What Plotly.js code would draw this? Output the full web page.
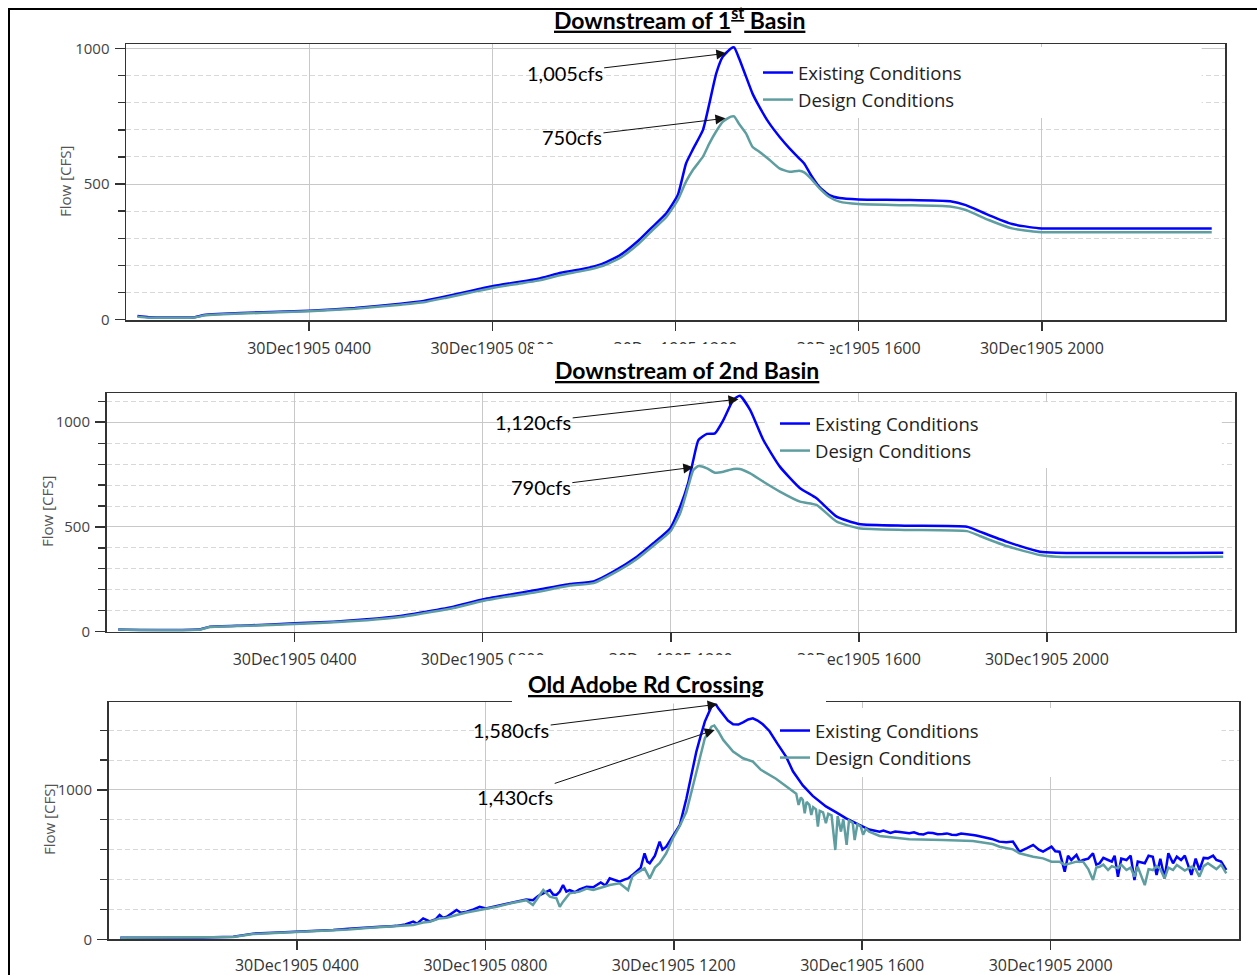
<!DOCTYPE html>
<html>
<head>
<meta charset="utf-8">
<script src="https://cdn.plot.ly/plotly-3.0.1.min.js"></script>
<style>html,body{margin:0;padding:0;background:#fff;}#chart{width:1257px;height:975px;}</style>
</head>
<body>
<div id="chart"></div>
<script>
// ---------- DATA (hours after 30Dec1905 0000, flow in cfs) ----------
const seriesNames = ["Existing Conditions", "Design Conditions"];
const panelTitles = ["<b><u>Downstream of 1<sup>st</sup> Basin</u></b>", "<b><u>Downstream of 2nd Basin</u></b>", "<b><u>Old Adobe Rd Crossing</u></b>"];
const tickHours = [4, 8, 12, 16, 20];

// Panel 1 - Downstream of 1st Basin
const basin1Hours = [0.25,0.5,1.0,1.5,1.7,2.0,3.0,4.0,5.0,6.0,6.5,7.0,7.5,8.0,8.5,9.0,9.5,10.0,10.4,10.8,11.2,11.5,11.8,12.05,12.23,12.38,12.6,12.74,12.89,13.03,13.21,13.28,13.39,13.54,13.68,13.83,14.05,14.27,14.49,14.7,14.81,14.96,15.14,15.36,15.58,16.0,17.0,18.0,18.34,18.84,19.35,19.93,21.0,22.5,23.71];
const basin1Existing = [12,8,7,8,16,20,26,32,42,58,68,85,104,122,136,150,172,187,205,238,292,342,392,459,576,628,700,798,909,970,1001,1005,964,897,835,786,724,675,632,595,576,533,490,459,448,443,441,436,422,385,352,337,336,336,336];
const basin1Design = [10,6,6,7,14,18,24,30,39,54,63,80,98,116,130,143,164,180,197,228,280,330,378,441,509,552,601,650,695,730,749,750,722,687,638,619,590,558,545,549,543,520,485,452,435,426,422,417,404,367,336,323,322,322,322];

// Panel 2 - Downstream of 2nd Basin
const basin2Hours = [0.25,1.15,2.0,2.2,3.0,4.0,4.83,5.54,6.25,6.67,7.38,8.02,9.15,9.86,10.36,10.78,11.28,11.63,11.99,12.2,12.37,12.48,12.59,12.77,12.94,13.12,13.33,13.47,13.69,13.97,14.32,14.75,15.1,15.53,16.0,17.0,18.3,18.57,19.14,19.85,20.2,23.75];
const basin2Existing = [11,8,12,24,30,40,48,59,75,90,119,155,199,228,240,287,358,422,494,597,709,820,915,944,947,1011,1107,1126,1058,915,788,685,637,549,514,506,501,478,430,382,377,377];
const basin2Design = [10,7,11,22,28,37,45,55,70,85,113,148,190,220,232,278,347,410,478,565,692,772,791,780,759,764,777,777,756,716,669,621,605,525,494,486,480,457,409,366,358,358];

// Panel 3 - Old Adobe Rd Crossing
const adobeHoursExisting = [0.25,1.0,2.0,2.65,3.07,3.5,4.0,4.4,4.77,5.1,5.48,5.76,6.0,6.11,6.3,6.47,6.55,6.68,6.82,6.95,7.03,7.1,7.18,7.3,7.39,7.48,7.6,7.75,7.88,8.01,8.24,8.4,8.59,8.75,8.87,9.01,9.12,9.23,9.37,9.44,9.51,9.58,9.65,9.72,9.79,9.9,10.0,10.15,10.29,10.45,10.55,10.64,10.75,10.85,10.95,11.03,11.12,11.21,11.3,11.38,11.44,11.49,11.6,11.7,11.76,11.84,11.98,12.13,12.27,12.37,12.48,12.57,12.66,12.8,12.88,12.95,13.05,13.15,13.26,13.37,13.47,13.58,13.68,13.78,13.89,14.03,14.2,14.39,14.53,14.74,14.95,15.23,15.45,15.66,15.94,16.15,16.37,16.45,16.6,16.7,16.8,16.9,17.0,17.1,17.2,17.3,17.4,17.5,17.6,17.71,17.8,17.9,18.0,18.1,18.2,18.35,18.42,18.5,18.63,18.75,18.91,19.06,19.2,19.34,19.5,19.63,19.75,19.84,20.02,20.1,20.19,20.3,20.37,20.44,20.55,20.62,20.69,20.8,20.9,20.97,21.04,21.12,21.22,21.3,21.36,21.43,21.5,21.61,21.7,21.78,21.85,22.0,22.08,22.17,22.25,22.33,22.42,22.5,22.6,22.68,22.77,22.85,22.99,23.08,23.16,23.25,23.34,23.45,23.52,23.62,23.73];
const adobeExisting = [11,11,12,17,38,44,51,55,62,70,80,84,88,90,100,118,105,140,120,135,163,145,151,175,196,178,185,200,218,207,223,238,252,262,267,262,290,308,330,300,297,320,364,320,330,315,335,352,348,380,360,408,395,386,400,408,430,453,480,576,520,509,560,654,600,620,687,766,944,1090,1257,1360,1458,1558,1580,1545,1502,1465,1440,1438,1453,1472,1480,1465,1440,1395,1310,1220,1125,1030,960,890,850,810,766,735,721,728,712,722,718,712,710,716,705,702,714,712,704,705,709,700,698,708,706,699,695,690,683,672,654,650,654,587,610,632,600,587,620,590,587,453,560,531,565,520,531,540,576,500,509,545,531,520,560,419,540,531,560,397,520,509,560,553,430,540,408,576,509,553,531,560,431,540,464,545,542,560,531,520,464];
const adobeHoursDesign = [0.25,1.0,2.0,2.65,3.07,3.5,4.0,4.4,4.77,5.1,5.48,5.76,6.11,6.3,6.47,6.68,6.82,7.03,7.18,7.39,7.6,7.88,8.01,8.24,8.59,8.87,9.01,9.12,9.23,9.37,9.51,9.58,9.65,9.79,10.0,10.15,10.29,10.45,10.64,10.85,11.03,11.12,11.21,11.38,11.49,11.6,11.7,11.84,11.98,12.13,12.27,12.37,12.48,12.66,12.8,12.86,12.95,13.05,13.26,13.47,13.68,13.85,14.17,14.5,14.6,14.65,14.7,14.74,14.78,14.82,14.88,14.92,14.96,15.02,15.06,15.1,15.17,15.23,15.28,15.35,15.43,15.48,15.55,15.6,15.67,15.72,15.8,15.84,15.9,15.97,16.02,16.08,16.15,16.37,17.0,17.71,18.35,18.77,18.92,19.2,19.34,19.63,19.84,20.02,20.19,20.3,20.44,20.55,20.69,20.8,20.9,20.97,21.04,21.12,21.22,21.3,21.43,21.5,21.61,21.7,21.78,21.85,22.0,22.08,22.17,22.25,22.33,22.42,22.5,22.6,22.68,22.77,22.85,22.99,23.08,23.16,23.25,23.34,23.45,23.52,23.62,23.73];
const adobeDesign = [10,10,11,15,35,41,48,52,59,66,76,82,87,92,96,112,118,140,145,163,180,196,203,218,245,262,230,280,330,285,274,218,252,308,319,340,330,345,364,375,330,420,442,475,408,480,509,576,676,760,855,980,1123,1346,1424,1432,1390,1335,1257,1212,1190,1135,1075,1000,975,900,950,933,844,920,900,833,885,870,754,860,850,777,840,830,598,825,721,805,632,795,780,665,770,755,700,740,721,692,670,665,658,638,620,602,576,553,542,520,520,498,509,520,520,470,397,480,486,500,464,490,475,500,464,480,419,486,363,470,464,490,470,408,480,464,498,475,460,486,470,420,490,509,486,470,500,442];

// Peak labels: [panel, hour, flow, text]
const peakLabels = [
  [1, 13.11, 983, "1,005cfs"], [1, 13.09, 743, "750cfs"],
  [2, 13.44, 1110, "1,120cfs"], [2, 12.48, 785, "790cfs"],
  [3, 12.93, 1574, "1,580cfs"], [3, 12.87, 1402, "1,430cfs"]
];

// ---------- helpers ----------
const W = 1257, H = 975;
const fx = v => v / W;
const fy = v => 1 - v / H;
function pad(n){ return (n < 10 ? "0" : "") + n; }
function toDate(h){
  let s = Math.round(h * 3600);
  const d = 30 + Math.floor(s / 86400); s = s % 86400;
  return "1905-12-" + d + " " + pad(Math.floor(s/3600)) + ":" + pad(Math.floor((s%3600)/60)) + ":" + pad(s%60);
}
const BLUE = "#0000ff", TEAL = "#5f9ea0";

const panels = [
  {hE: basin1Hours, vE: basin1Existing, hD: basin1Hours, vD: basin1Design, shape: "spline"},
  {hE: basin2Hours, vE: basin2Existing, hD: basin2Hours, vD: basin2Design, shape: "spline"},
  {hE: adobeHoursExisting, vE: adobeExisting, hD: adobeHoursDesign, vD: adobeDesign, shape: "linear"}
];
const legendIds = ["legend", "legend2", "legend3"];
const traces = [];
panels.forEach((p, i) => {
  const ax = i === 0 ? "" : String(i + 1);
  traces.push({x: p.hE.map(toDate), y: p.vE, type: "scatter", mode: "lines", name: seriesNames[0],
    xaxis: "x" + ax, yaxis: "y" + ax, legend: legendIds[i],
    line: {color: BLUE, width: 2.5, shape: p.shape, smoothing: 0.5}, hoverinfo: "skip"});
  traces.push({x: p.hD.map(toDate), y: p.vD, type: "scatter", mode: "lines", name: seriesNames[1],
    xaxis: "x" + ax, yaxis: "y" + ax, legend: legendIds[i],
    line: {color: TEAL, width: 2.5, shape: p.shape, smoothing: 0.5}, hoverinfo: "skip"});
});

const tickFont = {family: "Open Sans, Noto Sans, sans-serif", size: 16, color: "#333"};
function xAxis(domain, anchor, standoff){
  return {domain: domain, anchor: anchor, type: "date", range: [toDate(0), toDate(24)],
    tickmode: "array", tickvals: tickHours.map(toDate), tickformat: "%d%b%Y %H%M",
    ticks: "outside", ticklen: 9, tickwidth: 1.5, tickcolor: "#333", ticklabelstandoff: standoff,
    showgrid: true, gridcolor: "#c8c8c8", gridwidth: 1, zeroline: false,
    showline: true, mirror: true, linecolor: "#333", linewidth: 1.5, tickfont: tickFont, fixedrange: true};
}
function yAxis(domain, anchor, range, dtick, minorDtick){
  return {domain: domain, anchor: anchor, range: range, tickmode: "linear", tick0: 0, dtick: dtick,
    ticks: "outside", ticklen: 10, tickwidth: 1.5, tickcolor: "#333", ticklabelstandoff: 2,
    showgrid: true, gridcolor: "#c8c8c8", gridwidth: 1, zeroline: false,
    minor: {dtick: minorDtick, tick0: 0, ticks: "outside", ticklen: 7, tickwidth: 1.2, tickcolor: "#333",
      showgrid: true, gridcolor: "#d8d8d8", griddash: "5px,3px", gridwidth: 1},
    showline: true, mirror: true, linecolor: "#333", linewidth: 1.5,
    tickfont: {family: "Open Sans, Noto Sans, sans-serif", size: 15, color: "#444"}, fixedrange: true};
}

const legendStyle = (x, y) => ({x: fx(x), y: fy(y), xanchor: "left", yanchor: "top",
  bgcolor: "rgba(0,0,0,0)", borderwidth: 0, tracegroupgap: 0, itemwidth: 30,
  font: {family: "Open Sans, Noto Sans, sans-serif", size: 18.5, color: "#222"}});

const annFont = {family: "Lato, Carlito, sans-serif", size: 20, color: "#000"};
const annotations = [];
// panel titles
[[679, 19], [686.5, 370], [645.8, 684]].forEach((pos, i) => {
  annotations.push({xref: "paper", yref: "paper", x: fx(pos[0]), y: fy(pos[1]), xanchor: "center", yanchor: "middle",
    text: panelTitles[i], showarrow: false, borderpad: 0, font: {family: "Lato, Carlito, sans-serif", size: 23, color: "#000"}});
});
// y axis titles
[[65, 182], [47, 512], [49, 820]].forEach(pos => {
  annotations.push({xref: "paper", yref: "paper", x: fx(pos[0]), y: fy(pos[1]), xanchor: "center", yanchor: "middle",
    text: "Flow [CFS]", textangle: -90, showarrow: false,
    font: {family: "Open Sans, Noto Sans, sans-serif", size: 15, color: "#555"}});
});
// peak labels (text centre offsets in px)
const labelOffsets = [[-161.7, 19.2], [-153.5, 18.4], [-205.3, 23.2], [-152.5, 19.4], [-206.4, 25.7], [-199.5, 66.7]];
peakLabels.forEach((pl, i) => {
  const ax = pl[0] === 1 ? "" : String(pl[0]);
  annotations.push({xref: "x" + ax, yref: "y" + ax, x: toDate(pl[1]), y: pl[2], text: pl[3],
    showarrow: true, arrowhead: 2, arrowsize: 2, arrowwidth: 1, arrowcolor: "#111",
    ax: labelOffsets[i][0], ay: labelOffsets[i][1], font: annFont});
});

const shapes = [
  // outer frame of the figure
  {type: "rect", xref: "paper", yref: "paper", x0: fx(9), x1: 1.01, y0: -0.01, y1: fy(9),
    line: {color: "#000", width: 2}, fillcolor: "rgba(0,0,0,0)", layer: "below"},
  // white legend backgrounds (under the curves, over the grid)
  {type: "rect", xref: "x", yref: "y", x0: toDate(13.66), x1: toDate(23.49), y0: 744, y1: 1006,
    line: {width: 0}, fillcolor: "#fff", layer: "between"},
  {type: "rect", xref: "x2", yref: "y2", x0: toDate(14.0), x1: toDate(23.72), y0: 782, y1: 1097,
    line: {width: 0}, fillcolor: "#fff", layer: "between"},
  {type: "rect", xref: "x3", yref: "y3", x0: toDate(14.04), x1: toDate(23.63), y0: 1087, y1: 1549,
    line: {width: 0}, fillcolor: "#fff", layer: "between"},
  // white title boxes that overlap the panel above / frame
  {type: "rect", xref: "paper", yref: "paper", x0: fx(533), x1: fx(830), y0: fy(357), y1: fy(344),
    line: {width: 0}, fillcolor: "#fff", layer: "above"},
  {type: "rect", xref: "paper", yref: "paper", x0: fx(512), x1: fx(826), y0: fy(703.4), y1: fy(655),
    line: {width: 0}, fillcolor: "#fff", layer: "above"}
];

const layout = {
  width: W, height: H, margin: {l: 0, r: 0, t: 0, b: 0},
  paper_bgcolor: "#fff", plot_bgcolor: "#fff", showlegend: true,
  xaxis: xAxis([fx(126), fx(1225)], "y", 4),
  yaxis: yAxis([fy(320), fy(44)], "x", [-2.5, 1017.5], 500, 100),
  xaxis2: xAxis([fx(106.5), fx(1235)], "y2", 4),
  yaxis2: yAxis([fy(631.7), fy(393.3)], "x2", [0, 1138], 500, 100),
  xaxis3: xAxis([fx(108.5), fx(1239)], "y3", 2),
  yaxis3: yAxis([fy(939.3), fy(702.3)], "x3", [0, 1587], 1000, 200),
  legend: legendStyle(758, 54),
  legend2: legendStyle(775, 405),
  legend3: legendStyle(775, 712),
  annotations: annotations,
  shapes: shapes
};

Plotly.newPlot("chart", traces, layout, {displayModeBar: false, staticPlot: true});
</script>
</body>
</html>
